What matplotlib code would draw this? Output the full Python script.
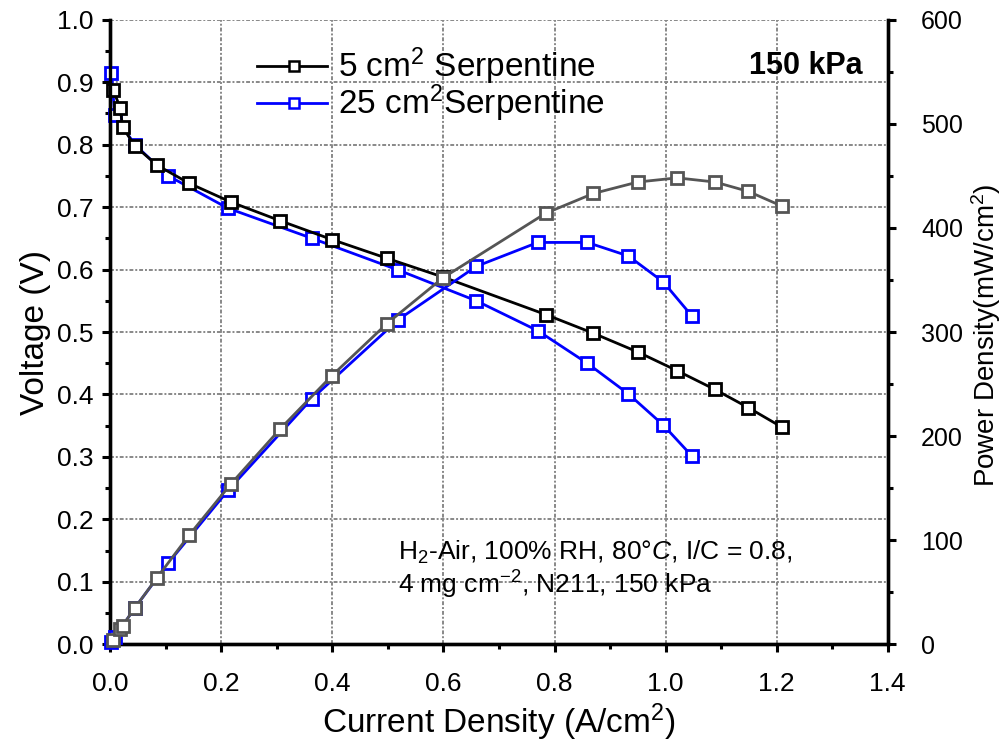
import numpy as np
import matplotlib
matplotlib.use('Agg')
from matplotlib import pyplot as plt
from matplotlib.ticker import MultipleLocator

plt.rcParams['font.family'] = ['Liberation Sans', 'DejaVu Sans']
plt.rcParams['mathtext.fontset'] = 'custom'
plt.rcParams['mathtext.rm'] = 'Liberation Sans'
plt.rcParams['mathtext.it'] = 'Liberation Sans:italic'

# 5 cm2 serpentine
j5 = [0.005, 0.018, 0.022, 0.044, 0.084, 0.142, 0.217, 0.306, 0.399,
      0.498, 0.599, 0.784, 0.870, 0.950, 1.021, 1.089, 1.149, 1.209]
v5 = [0.888, 0.858, 0.828, 0.798, 0.767, 0.738, 0.708, 0.678, 0.648,
      0.618, 0.588, 0.528, 0.498, 0.468, 0.438, 0.408, 0.379, 0.348]
p5 = [4, 15, 18, 35, 64, 105, 154, 207, 258,
      308, 352, 414, 433, 444, 448, 444, 435, 421]

# 25 cm2 serpentine
j25 = [0.002, 0.008, 0.044, 0.104, 0.212, 0.363, 0.519, 0.659, 0.770,
       0.859, 0.933, 0.996, 1.048]
v25 = [0.914, 0.847, 0.800, 0.750, 0.698, 0.650, 0.599, 0.550, 0.502,
       0.450, 0.401, 0.351, 0.301]
p25 = [2, 7, 35, 78, 148, 236, 312, 363, 386,
       386, 373, 348, 315]

fig = plt.figure(figsize=(10.03, 7.52), dpi=100)
ax = fig.add_axes([0.110, 0.143, 0.775, 0.831])
ax2 = ax.twinx()

mk = dict(marker='s', markersize=9, markerfacecolor='white', markeredgewidth=2, lw=2)
ax.plot(j25, v25, color='#0000ff', clip_on=False, zorder=3, **mk)
ax.plot(j5, v5, color='black', clip_on=False, zorder=4, **mk)
ax2.plot(j25, p25, color='#0000ff', clip_on=False, zorder=3, **mk)
ax2.plot(j5, p5, color='#555555', clip_on=False, zorder=4, **mk)

ax.set_xlim(0, 1.4)
ax.set_ylim(0, 1.0)
ax2.set_ylim(0, 600)

ax.xaxis.set_major_locator(MultipleLocator(0.2))
ax.xaxis.set_minor_locator(MultipleLocator(0.1))
ax.yaxis.set_major_locator(MultipleLocator(0.1))
ax.yaxis.set_minor_locator(MultipleLocator(0.05))
ax2.yaxis.set_major_locator(MultipleLocator(100))
ax2.yaxis.set_minor_locator(MultipleLocator(50))
ax.xaxis.set_major_formatter(lambda v, p: f'{v:.1f}')
ax.yaxis.set_major_formatter(lambda v, p: f'{v:.1f}')

ax.grid(True, which='major', color='#888888', lw=1.4, linestyle=(0, (2, 1, 1, 1)))

for a in (ax, ax2):
    a.spines['top'].set_visible(False)
    for s in a.spines.values():
        s.set_linewidth(2.4)
    a.tick_params(which='major', direction='out', length=6, width=2.2, labelsize=19)
    a.tick_params(which='minor', direction='out', length=3.5, width=2.2)
ax.tick_params(axis='x', which='major', pad=14)
ax.tick_params(axis='y', which='major', pad=6)
ax2.tick_params(axis='y', which='major', pad=18, labelsize=18)

ax.set_xlabel('Current Density (A/cm$^2$)', fontsize=24, labelpad=4)
ax.set_ylabel('Voltage (V)', fontsize=24, labelpad=4)
fig.text(986 / 1003, 1 - 335 / 752, 'Power Density(mW/cm$^2$)', fontsize=20,
         rotation=90, ha='center', va='center')

# legend drawn by hand as in the original (no frame)
ax.plot([0.265, 0.39], [0.926, 0.926], color='black', lw=2, zorder=5)
ax.plot([0.33], [0.926], 's', color='black', markersize=7, markerfacecolor='white',
        markeredgewidth=1.8, zorder=6)
ax.plot([0.265, 0.39], [0.866, 0.866], color='#0000ff', lw=2, zorder=5)
ax.plot([0.33], [0.866], 's', color='#0000ff', markersize=7, markerfacecolor='white',
        markeredgewidth=1.8, zorder=6)
ax.text(0.41, 0.926, '5 cm$^2$ Serpentine', fontsize=24, va='center', ha='left')
ax.text(0.41, 0.866, '25 cm$^2$Serpentine', fontsize=24, va='center', ha='left')

ax.text(1.355, 0.926, '150 kPa', fontsize=22, fontweight='bold', va='center', ha='right')

ax.text(0.518, 0.148, 'H$_2$-Air, 100% RH, 80°$\\mathit{C}$, I/C = 0.8,', fontsize=19,
        va='center', ha='left')
ax.text(0.518, 0.095, '4 mg cm$^{-2}$, N211, 150 kPa', fontsize=19,
        va='center', ha='left')

fig.savefig('out.png', dpi=100)
